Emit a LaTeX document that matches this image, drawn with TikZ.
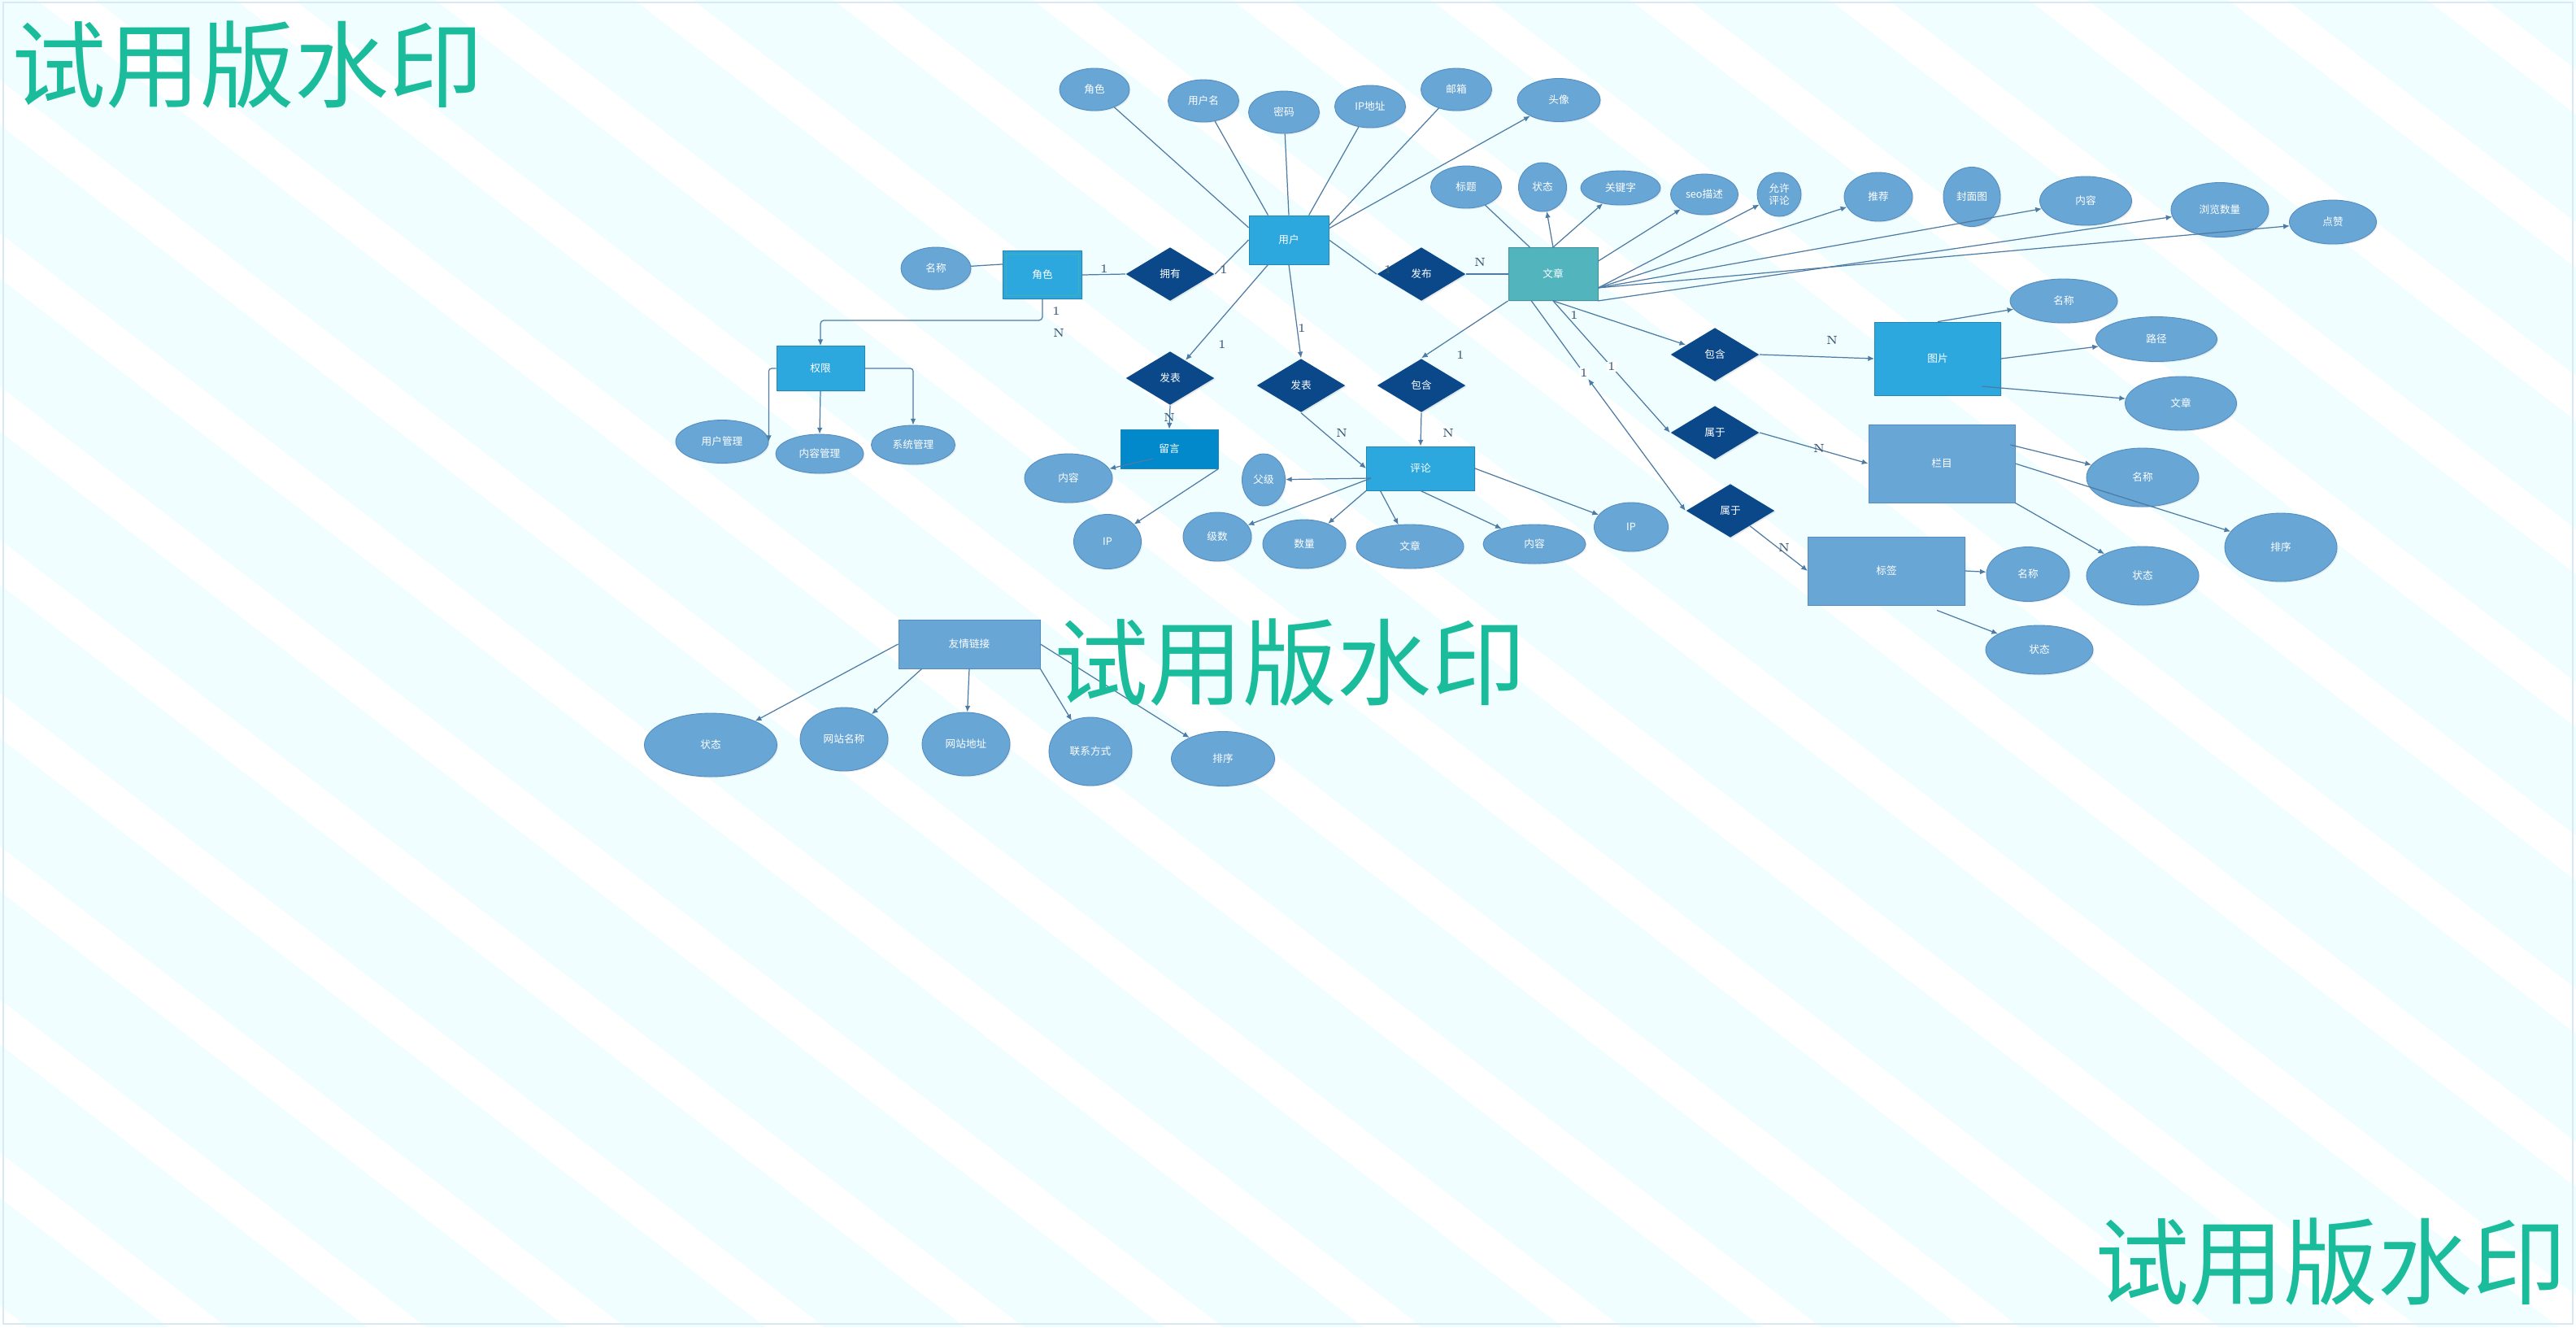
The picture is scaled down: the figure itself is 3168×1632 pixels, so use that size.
\documentclass[tikz,border=0pt]{standalone}
\usepackage{fontspec}
\newfontfamily\cjk{Noto Sans CJK SC}
\usetikzlibrary{shapes.geometric,arrows.meta,shadows}
\definecolor{bgcyan}{RGB}{240,254,255}
\definecolor{rimblue}{RGB}{214,233,245}
\definecolor{entblue}{RGB}{45,168,223}
\definecolor{artteal}{RGB}{82,181,190}
\definecolor{msgblue}{RGB}{2,137,204}
\definecolor{attrblue}{RGB}{104,166,213}
\definecolor{attredge}{RGB}{84,140,192}
\definecolor{relnavy}{RGB}{10,72,138}
\definecolor{rolerim}{RGB}{64,176,178}
\definecolor{wire}{RGB}{78,123,163}
\definecolor{cardink}{RGB}{55,85,115}
\definecolor{wmgreen}{RGB}{26,188,156}
\begin{document}
\begin{tikzpicture}[x=0.01cm,y=-0.01cm,
  every node/.style={inner sep=0pt,font=\cjk\fontsize{3.6}{4.3}\selectfont,text=white},
  sz/.style 2 args={minimum width=#1*0.01cm,minimum height=#2*0.01cm},
  ent/.style={rectangle,fill=entblue,draw=entblue!80!black,line width=0.25pt,
    drop shadow={opacity=0.18,shadow xshift=0.4pt,shadow yshift=-0.4pt}},
  pale/.style={ent,fill=attrblue,draw=attredge},
  rel/.style={diamond,fill=relnavy,sz={109}{66},
    drop shadow={opacity=0.18,shadow xshift=0.4pt,shadow yshift=-0.4pt}},
  attr/.style={ellipse,fill=attrblue,draw=attredge,line width=0.25pt,
    drop shadow={opacity=0.15,shadow xshift=0.4pt,shadow yshift=-0.4pt}},
  card/.style={font=\fontsize{4.2}{4.2}\selectfont,text=cardink},
  conn/.style={draw=wire,line width=0.35pt},
  arr/.style={conn,-{Latex[length=2.2pt,width=1.9pt]}},
  dbl/.style={conn,{Latex[length=2.2pt,width=1.9pt]}-{Latex[length=2.2pt,width=1.9pt]}},
  wm/.style={font=\cjk\fontsize{33}{33}\selectfont,text=wmgreen,anchor=west}]
\useasboundingbox (0,0) rectangle (3168,1632);
\fill[bgcyan] (0,0) rectangle (3168,1632);
\begin{scope}
\clip (0,0) rectangle (3168,1632);
\foreach \k in {-9,...,13}
  \fill[white] ({45+245*\k},0) -- ({117+245*\k},0) -- ({2239+245*\k},1632) -- ({2167+245*\k},1632) -- cycle;
\end{scope}
\draw[rimblue,line width=0.7pt] (4,3) rectangle (3164,1628);

\node[ent,sz={98}{60}] (user) at (1585,295) {用户};
\node[ent,sz={97}{59}] (role) at (1282,338) {角色};
\draw[rolerim,line width=0.3pt] ([shift={(4,4)}]role.north west) rectangle ([shift={(-4,-4)}]role.south east);
\node[ent,sz={108}{55}] (perm) at (1009,453) {权限};
\node[ent,fill=artteal,draw=artteal!80!black,sz={110}{65}] (article) at (1910,337) {文章};
\node[ent,fill=msgblue,sz={120}{48}] (msg) at (1438,552) {留言};
\node[ent,sz={133}{54}] (comment) at (1747,576) {评论};
\node[ent,sz={155}{90}] (pic) at (2383,441) {图片};
\node[pale,sz={180}{96}] (column) at (2388,570) {栏目};
\node[pale,sz={193}{84}] (tag) at (2320,702) {标签};
\node[pale,sz={174}{60}] (link) at (1192,792) {友情链接};

\node[rel] (own) at (1439,337) {拥有};
\node[rel] (publish) at (1748,337) {发布};
\node[rel] (post1) at (1439,465) {发表};
\node[rel] (post2) at (1600,474) {发表};
\node[rel] (incl1) at (1748,474) {包含};
\node[rel] (incl2) at (2109,436) {包含};
\node[rel] (belong1) at (2109,532) {属于};
\node[rel] (belong2) at (2128,628) {属于};

\node[attr,sz={86}{52}] (ua1) at (1346,110) {角色};
\node[attr,sz={87}{52}] (ua2) at (1480,124) {用户名};
\node[attr,sz={87}{52}] (ua3) at (1579,138) {密码};
\node[attr,sz={87}{52}] (ua4) at (1685,131) {IP地址};
\node[attr,sz={87}{52}] (ua5) at (1791,110) {邮箱};
\node[attr,sz={102}{53}] (ua6) at (1917,123) {头像};
\node[attr,sz={86}{52}] (ra1) at (1151,330) {名称};
\node[attr,sz={114}{53}] (pa1) at (888,543) {用户管理};
\node[attr,sz={108}{48}] (pa2) at (1008,558) {内容管理};
\node[attr,sz={103}{48}] (pa3) at (1123,547) {系统管理};
\node[attr,sz={87}{52}] (aa1) at (1803,230) {标题};
\node[attr,sz={59}{60}] (aa2) at (1897,230) {状态};
\node[attr,sz={98}{42}] (aa3) at (1993,231) {关键字};
\node[attr,sz={83}{50}] (aa4) at (2096,239) {seo描述};
\node[attr,sz={54}{54},align=center] (aa5) at (2188,239) {允许\\评论};
\node[attr,sz={84}{60}] (aa6) at (2310,242) {推荐};
\node[attr,sz={70}{73}] (aa7) at (2425,242) {封面图};
\node[attr,sz={113}{60}] (aa8) at (2565,247) {内容};
\node[attr,sz={120}{67}] (aa9) at (2730,258) {浏览数量};
\node[attr,sz={107}{54}] (aa10) at (2869,273) {点赞};
\node[attr,sz={132}{54}] (pia1) at (2538,370) {名称};
\node[attr,sz={149}{55}] (pia2) at (2652,417) {路径};
\node[attr,sz={137}{66}] (pia3) at (2682,496) {文章};
\node[attr,sz={138}{72}] (ca1) at (2635,587) {名称};
\node[attr,sz={138}{84}] (ca2) at (2805,673) {排序};
\node[attr,sz={138}{72}] (ca3) at (2635,708) {状态};
\node[attr,sz={102}{67}] (ta1) at (2494,706) {名称};
\node[attr,sz={132}{60}] (ta2) at (2508,799) {状态};
\node[attr,sz={108}{60}] (ma1) at (1314,588) {内容};
\node[attr,sz={83}{67}] (ma2) at (1362,666) {IP};
\node[attr,sz={53}{64}] (cma1) at (1554,590) {父级};
\node[attr,sz={84}{60}] (cma2) at (1497,660) {级数};
\node[attr,sz={102}{60}] (cma3) at (1604,669) {数量};
\node[attr,sz={132}{54}] (cma4) at (1734,672) {文章};
\node[attr,sz={126}{48}] (cma5) at (1887,669) {内容};
\node[attr,sz={91}{60}] (cma6) at (2006,648) {IP};
\node[attr,sz={163}{78}] (la1) at (874,916) {状态};
\node[attr,sz={108}{78}] (la2) at (1038,909) {网站名称};
\node[attr,sz={108}{78}] (la3) at (1188,915) {网站地址};
\node[attr,sz={102}{84}] (la4) at (1341,924) {联系方式};
\node[attr,sz={127}{67}] (la5) at (1504,933) {排序};

\node[card,fill=white,inner sep=0.4pt] (lb2) at (1948,459) {1};

\draw[conn] (ua1) -- (user.163);
\draw[conn] (ua2) -- (user.130);
\draw[conn] (ua3) -- (user.north);
\draw[conn] (ua4) -- (user.51);
\draw[conn] (ua5) -- (user.20);
\draw[arr] (user.16) -- (ua6);
\draw[conn] (ra1) -- (role.165);
\draw[conn] (role.east) -- (own.west);
\draw[conn] (own.east) -- (user.west);
\draw[conn] (user.east) -- (publish.west);
\draw[conn] (publish.east) -- (article.west);
\draw[arr,rounded corners=1.2pt] (role.south) -- ++(0,26) -| (perm.north);
\draw[arr,rounded corners=1pt] (perm.west) -| (pa1.east);
\draw[arr] (perm.south) -- (pa2.north);
\draw[arr,rounded corners=1pt] (perm.east) -| (pa3.north);

\draw[arr] (user.230) -- (post1);
\draw[arr] (post1.south) -- (msg.north);
\draw[arr] ([shift={(-20,12)}]msg.center) -- (ma1);
\draw[arr] (msg.south east) -- (ma2);
\draw[arr] (user.south) -- (post2.north);
\draw[arr] (post2.south) -- (comment.west);
\draw[arr] (article.south west) -- (incl1.north);
\draw[arr] (incl1.south) -- (comment.north);
\draw[arr] ([shift={(6,12)}]comment.west) -- (cma1);
\draw[arr] ([shift={(6,12)}]comment.west) -- (cma2);
\draw[arr] (comment.south west) -- (cma3);
\draw[arr] (comment.209) -- (cma4);
\draw[arr] (comment.south) -- (cma5);
\draw[arr] (comment.east) -- (cma6);

\draw[conn] (aa1) -- (article.131);
\draw[arr] (article.north) -- (aa2);
\draw[arr] (article.north) -- (aa3);
\draw[arr] (article.16) -- (aa4);
\draw[arr] (article.-17) -- (aa5);
\draw[arr] (article.-17) -- (aa6);
\draw[arr] (article.-17) -- (aa8);
\draw[arr] (article.south east) -- (aa9);
\draw[arr] (article.-17) -- (aa10);

\draw[arr] (article.south) -- (incl2);
\draw[arr] (incl2.east) -- (pic.west);
\draw[arr] (pic.north) -- (pia1);
\draw[arr] (pic.east) -- (pia2);
\draw[arr] ([shift={(-24,34)}]pic.east) -- (pia3);
\draw[arr] (article.south) -- (belong1.west);
\draw[arr] (belong1.east) -- (column.west);
\draw[arr] ([shift={(-6,-23)}]column.east) -- (ca1);
\draw[arr] (column.east) -- (ca2);
\draw[arr] (column.south east) -- (ca3);
\draw[conn] (article.231) -- (lb2);
\draw[dbl] (lb2) -- (belong2.west);
\draw[arr] (belong2) -- (tag.west);
\draw[arr] (tag.east) -- (ta1);
\draw[arr] ([shift={(62,6)}]tag.south) -- (ta2);

\draw[arr] (link.west) -- (la1);
\draw[arr] ([shift={(29,0)}]link.south west) -- (la2);
\draw[arr] (link.south) -- (la3);
\draw[arr] (link.south east) -- (la4);
\draw[arr] (link.east) -- (la5);

\node[card] (c1) at (1358,331) {1};
\node[card] (c2) at (1505,332) {1};
\node[card] (c3) at (1707,332) {1};
\node[card] (c4) at (1820,322) {N};
\node[card] (c5) at (1299,383) {1};
\node[card] (c6) at (1302,409) {N};
\node[card] (c7) at (1503,424) {1};
\node[card] (c8) at (1438,513) {N};
\node[card] (c9) at (1601,404) {1};
\node[card] (c10) at (1650,532) {N};
\node[card] (c11) at (1796,437) {1};
\node[card] (c12) at (1781,532) {N};
\node[card] (c13) at (1936,388) {1};
\node[card] (c14) at (2253,418) {N};
\node[card,fill=white,inner sep=0.4pt] (c15) at (1982,451) {1};
\node[card] (c16) at (2237,551) {N};
\node[card] (c17) at (2194,673) {N};

\node[wm] (wm1) at (14,80) {试用版水印};
\node[wm] (wm2) at (1296,815) {试用版水印};
\node[wm] (wm3) at (2576,1552) {试用版水印};
\end{tikzpicture}
\end{document}
